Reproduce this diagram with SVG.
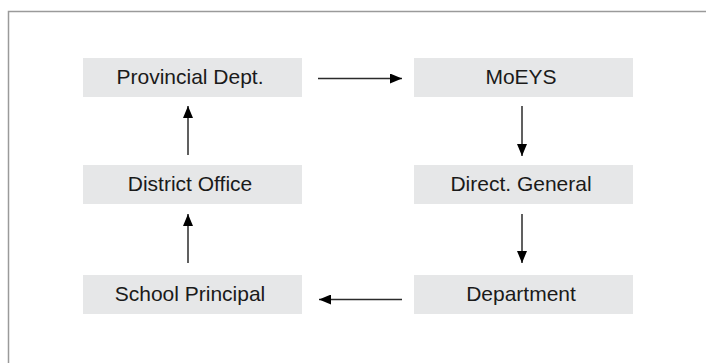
<svg xmlns="http://www.w3.org/2000/svg" width="706" height="363" viewBox="0 0 706 363">
<defs>
<style>
.box{fill:#e6e7e8;}
.lbl{font-family:"Liberation Sans",Arial,sans-serif;font-size:21px;fill:#1a1a1a;text-anchor:middle;}
.edge{stroke:#2b2b2b;stroke-width:1.5;fill:none;marker-end:url(#ah);}
</style>
<marker id="ah" viewBox="0 0 12 10" refX="12" refY="5" markerWidth="12" markerHeight="10" markerUnits="userSpaceOnUse" orient="auto">
<path d="M0,0 L12,5 L0,10 Z" fill="#000"/>
</marker>
</defs>
<rect width="706" height="363" fill="#fff"/>
<path d="M8.5,363 V11.5 H706" fill="none" stroke="#9a9a9a" stroke-width="1.5"/>
<g id="provincial"><rect class="box" x="83" y="58" width="219" height="39"/><text class="lbl" x="190" y="84">Provincial Dept.</text></g>
<g id="moeys"><rect class="box" x="414" y="58" width="219" height="39"/><text class="lbl" x="521" y="84">MoEYS</text></g>
<g id="district"><rect class="box" x="83" y="165" width="219" height="39"/><text class="lbl" x="190" y="191">District Office</text></g>
<g id="directgeneral"><rect class="box" x="414" y="165" width="219" height="39"/><text class="lbl" x="521" y="191">Direct. General</text></g>
<g id="school"><rect class="box" x="83" y="275" width="219" height="39"/><text class="lbl" x="190" y="301">School Principal</text></g>
<g id="department"><rect class="box" x="414" y="275" width="219" height="39"/><text class="lbl" x="521" y="301">Department</text></g>
<g id="connectors">
<line class="edge" x1="318" y1="78.5" x2="402" y2="78.5"/>
<line class="edge" x1="522" y1="106" x2="522" y2="156"/>
<line class="edge" x1="522" y1="214" x2="522" y2="263"/>
<line class="edge" x1="402" y1="299.5" x2="319" y2="299.5"/>
<line class="edge" x1="188" y1="263" x2="188" y2="214"/>
<line class="edge" x1="188" y1="155" x2="188" y2="106"/>
</g>
</svg>
